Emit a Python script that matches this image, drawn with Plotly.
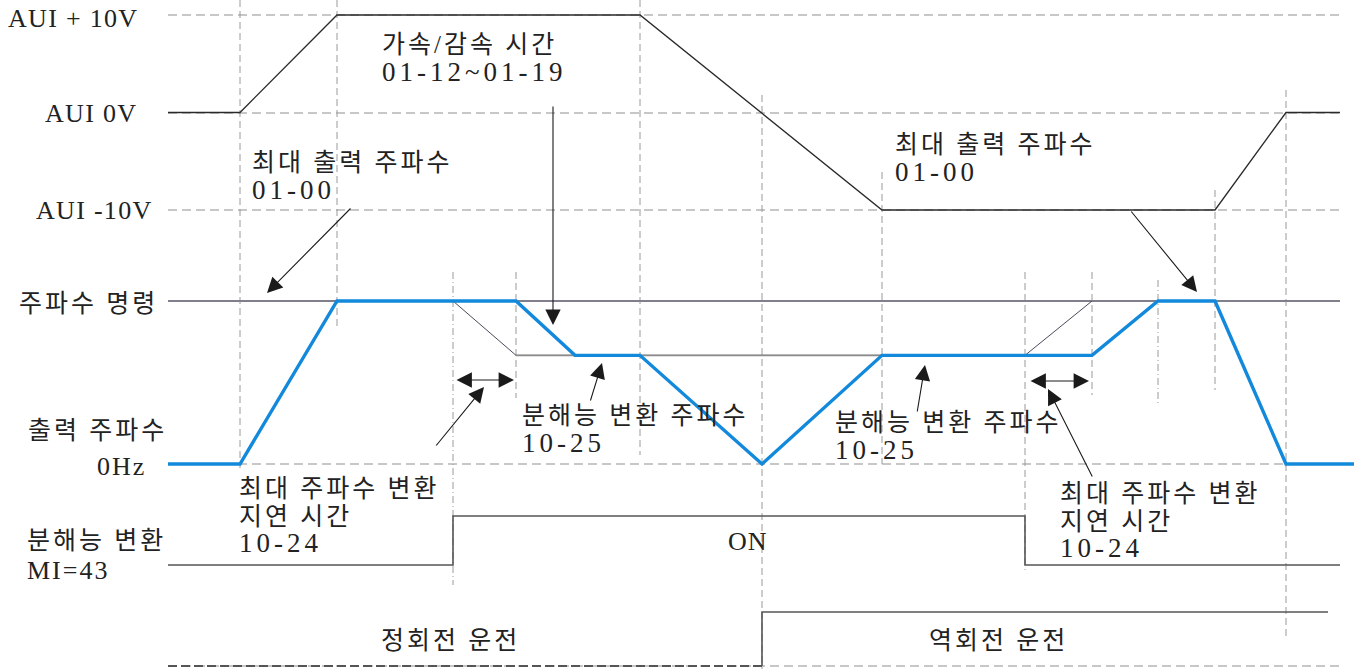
import plotly.graph_objects as go

W, H = 1354, 669
BLUE = "#1389dc"
DARK = "#2a2a2a"
GRID = "#b5b5b5"
CMD = "#80808c"
FONT = "Liberation Serif, Noto Sans CJK KR"

# AUI analog input (V) over time
t_aui = [168, 240, 337, 640, 882, 1215, 1286, 1340]
v_aui = [0, 0, 10, 10, -10, -10, 0, 0]

# frequency command (Hz) and internal max-frequency limit
t_cmd = [168, 1340]
f_cmd = [60, 60]
t_lim = [453, 516, 1025, 1092]
f_lim = [60, 40, 40, 60]
t_res = [516, 1025]
f_res = [40, 40]

# output frequency (Hz)
t_out = [168, 240, 337, 453, 516, 575, 640, 762, 882, 1025, 1092, 1158, 1215, 1286, 1370]
f_out = [0, 0, 60, 60, 60, 40, 40, 0, 40, 40, 40, 60, 60, 0, 0]

# MI=43 resolution switch (0 = off, 1 = on)
t_mi = [168, 453, 453, 1025, 1025, 1340]
s_mi = [0, 0, 1, 1, 0, 0]

# run direction (0 = forward, 1 = reverse)
t_fwd = [168, 762]
s_fwd = [0, 0]
t_rev = [762, 762, 1328]
s_rev = [0, 1, 1]

# event times for guide lines
t_guides = [240, 337, 453, 516, 640, 762, 882, 1025, 1092, 1158, 1215, 1286]


def span(va, pa, vb, pb):
    # axis range so that value va sits at pixel row pa and vb at pb
    k = (vb - va) / (pb - pa)
    return [va + (H - pa) * k, va - pa * k]


fig = go.Figure()

hidden = dict(visible=False, showgrid=False, zeroline=False)

# horizontal dashed reference lines (pixel rows)
for row in [15, 113, 210, 464, 666]:
    fig.add_shape(type="line", xref="x", yref="y5", x0=168, x1=1340, y0=row, y1=row,
                  line=dict(color=GRID, width=1.3, dash="9px,5px"), layer="below")

# vertical guides: (top, bottom, dash) per event time
guide_style = [
    (0, 468, "dash"), (0, 330, "dash"), (272, 585, "dashdot"), (272, 398, "dash"),
    (0, 455, "dash"), (95, 669, "dash"), (172, 464, "dash"), (272, 570, "dash"),
    (272, 395, "dash"), (280, 405, "dashdot"), (190, 390, "dash"), (90, 640, "dash"),
]
for t, (top, bot, dash) in zip(t_guides, guide_style):
    fig.add_shape(type="line", xref="x", yref="y5", x0=t, x1=t, y0=top, y1=bot,
                  line=dict(color="#9a9a9a", width=1, dash="7px,4px" if dash == "dash" else "7px,3px,1px,3px"),
                  layer="below")

fig.add_trace(go.Scatter(x=t_aui, y=v_aui, yaxis="y", mode="lines",
                         line=dict(color=DARK, width=1.3), hoverinfo="skip"))
fig.add_trace(go.Scatter(x=t_cmd, y=f_cmd, yaxis="y2", mode="lines",
                         line=dict(color=CMD, width=2), hoverinfo="skip"))
fig.add_trace(go.Scatter(x=t_lim, y=f_lim, yaxis="y2", mode="lines",
                         line=dict(color="#4a4a5a", width=1), hoverinfo="skip"))
fig.add_trace(go.Scatter(x=t_res, y=f_res, yaxis="y2", mode="lines",
                         line=dict(color="#8c8c8c", width=1.8), hoverinfo="skip"))
fig.add_trace(go.Scatter(x=t_out, y=f_out, yaxis="y2", mode="lines",
                         line=dict(color=BLUE, width=3.4), hoverinfo="skip"))
fig.add_trace(go.Scatter(x=t_mi, y=s_mi, yaxis="y3", mode="lines",
                         line=dict(color="#555555", width=1.6), hoverinfo="skip"))
fig.add_trace(go.Scatter(x=t_fwd, y=s_fwd, yaxis="y4", mode="lines",
                         line=dict(color="#555555", width=1.8, dash="9px,4px"), hoverinfo="skip"))
fig.add_trace(go.Scatter(x=t_rev, y=s_rev, yaxis="y4", mode="lines",
                         line=dict(color="#555555", width=1.6), hoverinfo="skip"))

# text styles: (font size, letter spacing)
HANGUL = (25, 3)
CODE = (27, 4)
LATIN = (26, 1.3)


def styled(text, style):
    size, spacing = style
    return f'<span style="font-size:{size}px;letter-spacing:{spacing}px">{text}</span>'


def block(x, y, lines, anchor="left", gap=27.5):
    # stacked lines in one annotation; base font size sets the line pitch
    text = "<br>".join(styled(t, s) for t, s in lines)
    fig.add_annotation(x=x, y=y, xref="x", yref="y5", text=text, showarrow=False,
                       xanchor=anchor, yanchor="middle", align=anchor if anchor != "center" else "center",
                       font=dict(family=FONT, size=gap / 1.3, color="#222222"))


def label(x, y, text, anchor="left", style=HANGUL):
    block(x, y, [(text, style)], anchor)


def arrow(x0, y0, x1, y1, both=False):
    fig.add_annotation(x=x1, y=y1, ax=x0, ay=y0, xref="x", yref="y5", axref="x", ayref="y5",
                       text="", showarrow=True, arrowhead=2, arrowsize=2.8, arrowwidth=1.1,
                       arrowcolor="#1a1a1a", standoff=0, startstandoff=0,
                       startarrowhead=2, startarrowsize=2.8,
                       arrowside="end+start" if both else "end")


# axis labels on the left
label(140, 18, "AUI + 10V", "right", LATIN)
label(139, 113, "AUI 0V", "right", LATIN)
label(155, 210, "AUI -10V", "right", LATIN)
label(160, 303, "주파수 명령", "right")
label(169, 430, "출력 주파수", "right")
label(148, 466, "0Hz", "right", (26, 2))
block(25, 556, [("분해능 변환", HANGUL), ("MI=43", (26, 2))], gap=30)

# annotations
block(380, 58.5, [("가속/감속 시간", HANGUL), ("01-12~01-19", CODE)])
block(250, 176.5, [("최대 출력 주파수", HANGUL), ("01-00", CODE)])
block(893, 159, [("최대 출력 주파수", HANGUL), ("01-00", CODE)])
block(520, 430, [("분해능 변환 주파수", HANGUL), ("10-25", CODE)], gap=28)
block(833, 436.5, [("분해능 변환 주파수", HANGUL), ("10-25", CODE)])
block(237, 516.5, [("최대 주파수 변환", HANGUL), ("지연 시간", HANGUL), ("10-24", CODE)])
block(1058, 521.5, [("최대 주파수 변환", HANGUL), ("지연 시간", HANGUL), ("10-24", CODE)])
label(748, 541, "ON", "center", (26, 1))
label(450, 640, "정회전 운전", "center")
label(998, 640, "역회전 운전", "center")

arrow(553, 105, 553, 325)
arrow(352, 207, 267, 293)
arrow(1130, 210, 1197, 292)
arrow(455, 380, 514, 380, both=True)
arrow(435, 447, 484, 387)
arrow(590, 402, 602, 363)
arrow(917, 413, 925, 365)
arrow(1029, 381, 1089, 381, both=True)
arrow(1093, 478, 1048, 389)

fig.update_layout(
    width=W, height=H,
    margin=dict(l=0, r=0, t=0, b=0),
    paper_bgcolor="white", plot_bgcolor="white",
    showlegend=False,
    xaxis=dict(range=[0, W], domain=[0, 1], **hidden),
    yaxis=dict(range=span(10, 15, -10, 210), domain=[0, 1], **hidden),
    yaxis2=dict(range=span(60, 301, 0, 464), overlaying="y", **hidden),
    yaxis3=dict(range=span(1, 516, 0, 565), overlaying="y", **hidden),
    yaxis4=dict(range=span(1, 612, 0, 666), overlaying="y", **hidden),
    yaxis5=dict(range=[H, 0], overlaying="y", **hidden),
)

fig.write_html("out.html", config={"displayModeBar": False},
               post_script="document.body.style.margin = '0';")
